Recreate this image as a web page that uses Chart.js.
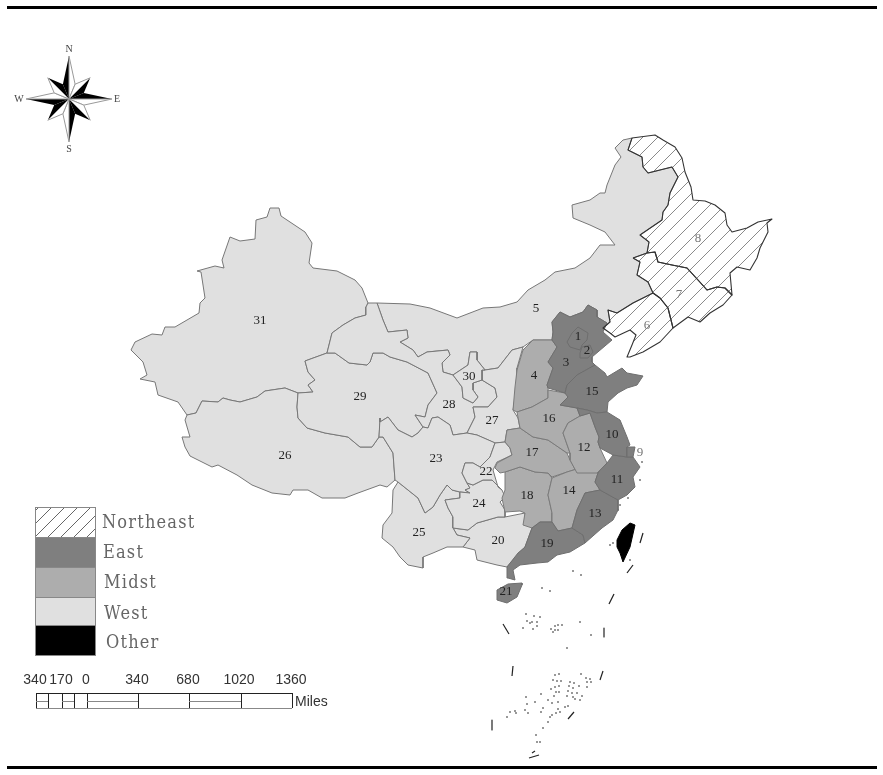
<!DOCTYPE html>
<html><head><meta charset="utf-8">
<style>html,body{margin:0;padding:0;background:#fff}canvas{display:block}</style>
<script src="https://cdn.jsdelivr.net/npm/chart.js@4"></script>
</head><body><canvas id="c" width="883" height="775"></canvas>
<script>
// Digitised map outlines, in map units
const beijing=[[567,342],[572,333],[578,327],[588,333],[587,340],[582,345],[580,350],[570,347]];
const tianjin=[[582,347],[590,345],[593,352],[588,358],[580,358],[580,353]];
const hebei=[[552,340],[553,332],[552,322],[560,312],[570,317],[583,312],[588,305],[597,310],[597,317],[607,323],[603,332],[612,340],[592,357],[592,362],[595,365],[577,375],[567,385],[565,393],[548,388],[547,385],[553,368],[548,362],[557,347]];
const shanxi=[[552,340],[533,340],[523,350],[517,370],[515,387],[513,410],[517,412],[532,407],[548,398],[548,388],[547,385],[553,368],[548,362],[557,347]];
const innerMongolia=[[377,303],[410,304],[430,308],[457,318],[483,308],[500,307],[517,302],[528,290],[545,280],[555,272],[575,268],[590,258],[600,245],[615,245],[605,232],[590,225],[573,218],[572,205],[590,200],[600,193],[605,193],[607,185],[615,165],[621,157],[615,148],[623,140],[632,138],[628,150],[642,157],[643,167],[648,173],[672,167],[678,177],[670,193],[668,205],[663,212],[662,220],[640,235],[649,242],[647,253],[633,258],[640,262],[637,275],[648,282],[653,293],[633,303],[617,313],[608,310],[610,322],[603,328],[607,323],[597,317],[597,310],[588,305],[583,312],[570,317],[560,312],[552,322],[553,332],[552,340],[533,340],[523,347],[512,350],[498,368],[485,370],[477,360],[477,352],[470,352],[468,365],[453,375],[443,372],[442,363],[450,355],[448,350],[427,352],[418,357],[413,350],[400,342],[408,338],[407,330],[388,332],[383,320]];
const liaoning=[[653,293],[660,298],[668,308],[673,328],[660,342],[643,352],[630,357],[627,357],[632,345],[636,335],[630,330],[615,337],[610,333],[603,328],[610,322],[608,310],[617,313],[633,303]];
const jilin=[[633,258],[640,262],[637,275],[648,282],[653,293],[660,298],[668,308],[673,328],[688,317],[700,322],[710,313],[723,305],[732,295],[725,288],[717,287],[707,290],[698,280],[687,268],[672,265],[658,262],[655,252],[647,253]];
const heilongjiang=[[632,138],[655,135],[663,140],[675,147],[682,158],[685,172],[691,187],[693,200],[705,201],[715,205],[725,213],[727,225],[732,232],[747,228],[758,222],[772,219],[767,223],[768,232],[760,248],[757,258],[750,270],[737,267],[730,273],[732,295],[725,288],[717,287],[707,290],[698,280],[687,268],[672,265],[658,262],[655,252],[647,253],[649,242],[640,235],[662,220],[663,212],[668,205],[670,193],[678,177],[672,167],[648,173],[643,167],[642,157],[628,150]];
const shanghai=[[627,447],[635,447],[633,457],[627,457]];
const jiangsu=[[577,408],[587,410],[597,413],[607,412],[620,420],[627,437],[630,445],[627,447],[627,457],[613,455],[600,448],[598,442],[599,437],[595,427],[590,413],[580,416]];
const zhejiang=[[607,463],[613,455],[627,457],[633,457],[640,467],[633,477],[635,487],[627,495],[618,500],[600,490],[595,482],[598,473]];
const anhui=[[580,416],[568,423],[563,433],[570,453],[570,460],[577,473],[597,473],[607,463],[600,448],[598,442],[599,437],[595,427],[590,413]];
const fujian=[[600,490],[618,500],[618,510],[613,520],[602,528],[585,543],[583,535],[572,528],[577,510],[585,493]];
const jiangxi=[[552,478],[567,472],[580,468],[598,473],[595,482],[600,490],[585,493],[577,510],[572,528],[558,531],[552,522],[552,513],[548,495]];
const shandong=[[595,365],[605,373],[607,377],[622,368],[627,373],[643,376],[637,385],[627,388],[618,393],[608,402],[607,412],[597,413],[587,410],[577,408],[560,405],[568,397],[565,393],[567,385],[577,375]];
const henan=[[517,412],[532,407],[548,398],[548,390],[565,393],[568,397],[560,405],[577,408],[580,416],[568,423],[563,433],[570,453],[567,453],[548,440],[533,437],[520,428]];
const hubei=[[507,430],[520,428],[533,437],[548,440],[567,453],[570,460],[577,473],[580,468],[567,472],[552,477],[548,473],[535,472],[520,467],[505,472],[500,473],[495,468],[497,463],[512,455],[510,448],[505,442]];
const hunan=[[505,472],[520,467],[535,472],[548,473],[552,478],[548,495],[552,513],[552,522],[540,522],[532,528],[523,525],[525,513],[520,511],[505,512],[503,503],[502,498],[505,490]];
const guangdong=[[532,528],[540,522],[552,522],[558,531],[572,528],[583,535],[585,543],[570,552],[557,555],[548,562],[537,563],[520,565],[513,570],[515,580],[508,578],[507,567],[518,553],[525,547]];
const guangxi=[[470,538],[463,547],[475,550],[477,560],[497,565],[507,567],[513,560],[525,547],[532,528],[525,523],[525,513],[505,517],[498,517],[477,523],[468,530],[453,528],[457,535]];
const hainan=[[497,590],[508,584],[522,583],[522,585],[517,597],[507,603],[497,600]];
const chongqing=[[462,473],[465,463],[473,463],[480,467],[490,457],[495,443],[505,442],[510,448],[512,455],[497,462],[493,470],[498,487],[502,490],[492,480],[483,480],[473,485],[467,483]];
const sichuan=[[380,418],[380,422],[388,417],[398,430],[412,437],[418,433],[423,427],[428,428],[432,418],[438,417],[450,425],[453,435],[467,433],[477,435],[493,442],[495,443],[490,457],[480,467],[473,463],[465,463],[462,473],[467,483],[470,488],[465,490],[470,493],[460,492],[452,490],[447,485],[440,495],[433,507],[425,513],[418,498],[408,490],[398,482],[395,480],[393,453],[383,437],[379,437]];
const guizhou=[[445,500],[460,498],[460,492],[470,493],[465,490],[470,488],[467,483],[473,485],[483,480],[492,480],[502,490],[505,497],[500,502],[505,510],[505,517],[498,517],[477,523],[468,530],[453,528],[453,517],[448,508]];
const yunnan=[[447,485],[452,490],[460,492],[460,498],[445,500],[448,508],[453,517],[453,528],[457,535],[470,538],[463,547],[447,547],[433,553],[423,557],[423,568],[408,565],[400,557],[393,547],[382,538],[383,525],[392,513],[393,490],[398,482],[408,490],[418,498],[425,513],[433,507],[440,495]];
const tibet=[[187,415],[196,413],[202,401],[218,402],[223,398],[230,400],[240,402],[257,397],[265,391],[285,388],[298,393],[297,407],[298,418],[307,428],[325,433],[348,437],[360,447],[372,447],[379,437],[383,437],[393,453],[395,480],[387,487],[380,485],[358,493],[345,498],[322,498],[308,490],[293,490],[290,495],[272,493],[252,485],[237,475],[218,465],[212,467],[190,456],[185,447],[182,437],[190,437],[185,420]];
const shaanxi=[[482,370],[485,370],[498,368],[512,350],[523,347],[517,368],[517,387],[513,410],[518,418],[520,428],[507,430],[505,442],[495,443],[477,435],[467,433],[472,423],[475,417],[473,407],[488,407],[497,397],[495,388],[482,380]];
const gansu=[[368,303],[377,303],[383,320],[388,332],[407,330],[408,338],[400,342],[413,350],[418,357],[427,352],[448,350],[450,355],[442,363],[443,372],[453,375],[462,387],[463,398],[473,403],[478,397],[473,390],[473,383],[482,380],[495,388],[497,397],[488,407],[473,407],[475,417],[472,423],[467,433],[453,435],[450,425],[438,417],[432,418],[428,428],[423,427],[415,415],[425,417],[428,405],[437,393],[428,373],[407,362],[390,357],[383,353],[373,353],[370,362],[367,365],[349,363],[335,353],[327,353],[332,333],[343,325],[355,318],[366,315],[366,307]];
const qinghai=[[305,361],[327,353],[335,353],[349,363],[367,365],[370,362],[373,353],[383,353],[390,357],[407,362],[428,373],[437,393],[428,405],[425,417],[415,415],[423,427],[418,433],[412,437],[398,430],[388,417],[380,422],[379,437],[372,447],[360,447],[348,437],[325,433],[307,428],[298,418],[297,407],[298,393],[313,392],[308,385],[315,380],[308,372]];
const ningxia=[[453,375],[468,365],[470,352],[477,352],[477,360],[485,370],[482,370],[482,380],[473,383],[473,390],[478,397],[473,403],[463,398],[462,387]];
const xinjiang=[[270,208],[279,208],[281,216],[290,222],[305,232],[312,243],[309,263],[313,268],[337,271],[355,280],[362,288],[368,303],[366,307],[366,315],[355,318],[343,325],[332,333],[327,353],[305,361],[308,372],[315,380],[308,385],[313,392],[298,393],[285,388],[265,391],[257,397],[240,402],[230,400],[223,398],[218,402],[202,401],[196,413],[187,415],[178,402],[158,395],[155,382],[140,379],[147,375],[143,362],[131,350],[135,342],[152,334],[162,335],[165,327],[175,327],[199,313],[200,303],[205,298],[201,272],[197,271],[215,266],[224,268],[222,260],[230,237],[240,241],[255,239],[256,220],[267,217]];
const taiwan=[[630,523],[635,525],[630,547],[623,562],[620,553],[617,547],[617,540],[622,530]];

const northeastRegions=[liaoning,jilin,heilongjiang];
const eastRegions=[beijing,tianjin,shanghai,jiangsu,zhejiang,fujian,shandong,guangdong,hainan,hebei];
const midstRegions=[anhui,jiangxi,henan,hubei,hunan,shanxi];
const westRegions=[chongqing,ningxia,guizhou,sichuan,yunnan,guangxi,shaanxi,gansu,qinghai,tibet,xinjiang,innerMongolia];
const otherRegions=[taiwan];

const islandDashes=[[[627,573],[633,565]],[[609,604],[614,594]],[[503,624],[509,634]],[[512,676],[513,666]],[[600,680],[603,671]],[[568,719],[574,712]],[[492,720],[492,730]],[[529,758],[539,755]],[[640,543],[643,533]],[[604,628],[604,637]],[[532,753],[535,751]]];
const islandDots=[[573,571],[581,575],[542,588],[550,591],[526,614],[534,616],[540,617],[527,621],[530,623],[537,622],[532,622],[523,628],[533,629],[537,626],[580,622],[591,635],[567,648],[562,625],[555,626],[558,625],[551,629],[555,630],[558,630],[553,632],[559,674],[555,675],[553,680],[557,681],[561,681],[555,687],[559,686],[551,689],[556,692],[559,692],[554,696],[581,674],[586,678],[590,679],[587,682],[591,682],[587,687],[570,682],[574,683],[569,686],[579,686],[573,688],[568,691],[572,693],[577,693],[567,696],[573,697],[582,696],[575,699],[580,700],[526,697],[541,694],[535,702],[548,700],[552,703],[558,702],[527,704],[525,710],[528,713],[543,708],[541,712],[558,709],[565,707],[568,706],[552,715],[556,713],[560,712],[550,717],[510,712],[515,711],[516,713],[507,717],[548,722],[543,728],[536,735],[537,742],[540,742],[636,470],[642,462],[640,480],[628,498],[620,505],[618,510],[613,543],[610,545],[630,560],[604,434]];

const provinceNumbers=["1","2","3","4","5","6","7","8","9","10","11","12","13","14","15","16","17","18","19","20","21","22","23","24","25","26","27","28","29","30","31"];
const numberX=[578,587,566,534,536,647,679,698,640,612,617,584,595,569,592,549,532,527,547,498,506,486,436,479,419,285,492,449,360,469,260];
const numberY=[336,350,362,375,308,325,294,238,452,434,479,447,513,490,391,418,452,495,543,540,591,471,458,503,532,455,420,404,396,376,320];

const legendLabels=["Northeast","East","Midst","West","Other"];
const scaleLabels=["340","170","0","340","680","1020","1360"];

function hatch(spacing,color){
  const c=document.createElement('canvas');c.width=spacing;c.height=spacing;
  const g=c.getContext('2d');g.strokeStyle=color;g.lineWidth=1;
  g.beginPath();g.moveTo(-1,spacing+1);g.lineTo(spacing+1,-1);
  g.moveTo(-1,1);g.lineTo(1,-1);g.moveTo(spacing-1,spacing+1);g.lineTo(spacing+1,spacing-1);g.stroke();
  return g.createPattern(c,'repeat');
}
const FILL={ne:hatch(15,'#8a8a8a'),east:'#7f7f7f',mid:'#adadad',west:'#e0e0e0',other:'#000'};
function poly(pts,fill,line,w){
  const data=pts.concat([pts[0]]).map(p=>({x:p[0],y:p[1]}));
  return {data,showLine:true,fill:'shape',backgroundColor:fill,borderColor:line,borderWidth:w,pointRadius:0,tension:0};
}
const datasets=[];
northeastRegions.forEach(r=>datasets.push(poly(r,FILL.ne,'#333',1.1)));
otherRegions.forEach(r=>datasets.push(poly(r,FILL.other,'#000',1)));
eastRegions.forEach(r=>datasets.push(poly(r,FILL.east,'#6e6e6e',1)));
midstRegions.forEach(r=>datasets.push(poly(r,FILL.mid,'#7a7a7a',1)));
westRegions.forEach(r=>datasets.push(poly(r,FILL.west,'#777',1)));
islandDashes.forEach(d=>datasets.push({data:d.map(p=>({x:p[0],y:p[1]})),showLine:true,fill:false,borderColor:'#222',borderWidth:1.2,pointRadius:0}));
datasets.push({data:islandDots.map(p=>({x:p[0],y:p[1]})),showLine:false,pointRadius:1,pointBorderWidth:0,pointBackgroundColor:'#777'});

const decor={id:'decor',afterDatasetsDraw(chart){
  const ctx=chart.ctx,X=v=>chart.scales.x.getPixelForValue(v),Y=v=>chart.scales.y.getPixelForValue(v);
  ctx.save();
  ctx.fillStyle='#000';
  ctx.fillRect(X(7),Y(6),X(877)-X(7),3);ctx.fillRect(X(7),Y(766),X(877)-X(7),3);
  ctx.textAlign='center';ctx.textBaseline='middle';ctx.font='13px "Liberation Serif"';
  provinceNumbers.forEach((t,i)=>{ctx.fillStyle=(i>=5&&i<=8)?'#777':'#222';ctx.fillText(t,X(numberX[i]),Y(numberY[i]+1));});
  const tops=[507,537,567,597,625,655],fills=[FILL.ne,FILL.east,FILL.mid,FILL.west,FILL.other];
  const lx=[102,103,104,104,106],ly=[523,553,583,614,643];
  fills.forEach((f,i)=>{
    ctx.fillStyle='#fff';ctx.fillRect(X(35),Y(tops[i]),60,tops[i+1]-tops[i]);
    ctx.fillStyle=i===0?hatch(13,'#666'):f;ctx.fillRect(X(35),Y(tops[i]),60,tops[i+1]-tops[i]);
    ctx.strokeStyle='#888';ctx.lineWidth=1;ctx.strokeRect(X(35)+.5,Y(tops[i])+.5,60,tops[i+1]-tops[i]);
  });
  ctx.textAlign='left';ctx.font='condensed 18px "DejaVu Serif"';ctx.fillStyle='#666';
  if('letterSpacing' in ctx)ctx.letterSpacing='1.2px';
  legendLabels.forEach((t,i)=>ctx.fillText(t,X(lx[i]),Y(ly[i])));
  if('letterSpacing' in ctx)ctx.letterSpacing='0px';
  const tx=[36,48,62,74,87,138,189,241,292],lab=[35,61,86,137,188,239,291];
  ctx.strokeStyle='#222';ctx.lineWidth=1;
  ctx.beginPath();ctx.moveTo(X(36),Y(693)+.5);ctx.lineTo(X(292),Y(693)+.5);
  tx.forEach(x=>{ctx.moveTo(X(x)+.5,Y(693));ctx.lineTo(X(x)+.5,Y(708));});ctx.stroke();
  ctx.strokeStyle='#888';ctx.beginPath();ctx.moveTo(X(36),Y(708)+.5);ctx.lineTo(X(292),Y(708)+.5);
  for(let i=0;i<8;i+=2){ctx.moveTo(X(tx[i]),Y(701)+.5);ctx.lineTo(X(tx[i+1]),Y(701)+.5);}ctx.stroke();
  ctx.font='14px "Liberation Sans"';ctx.fillStyle='#333';ctx.textAlign='center';
  scaleLabels.forEach((t,i)=>ctx.fillText(t,X(lab[i]),Y(680)));
  ctx.textAlign='left';ctx.fillText('Miles',X(295),Y(702));
  const cx=X(69),cy=Y(99),rad=[43,30],base=16;
  for(let k=0;k<8;k++){
    const a=k*Math.PI/4-Math.PI/2,r=k%2?rad[1]:rad[0];
    const tip=[cx+r*Math.cos(a),cy+r*Math.sin(a)];
    const L=[cx+base*Math.cos(a-Math.PI/8),cy+base*Math.sin(a-Math.PI/8)];
    const R=[cx+base*Math.cos(a+Math.PI/8),cy+base*Math.sin(a+Math.PI/8)];
    const dark=k%2?R:L,light=k%2?L:R;
    ctx.fillStyle='#000';ctx.beginPath();ctx.moveTo(cx,cy);ctx.lineTo(...dark);ctx.lineTo(...tip);ctx.closePath();ctx.fill();
    ctx.fillStyle='#fff';ctx.strokeStyle='#999';ctx.beginPath();ctx.moveTo(cx,cy);ctx.lineTo(...light);ctx.lineTo(...tip);ctx.closePath();ctx.fill();ctx.stroke();
  }
  ctx.font='10px "Liberation Serif"';ctx.fillStyle='#444';ctx.textAlign='center';
  ctx.fillText('N',X(69),Y(49));ctx.fillText('S',X(69),Y(149));ctx.fillText('W',X(19),Y(99));ctx.fillText('E',X(117),Y(99));
  ctx.restore();
}};

new Chart(document.getElementById('c'),{type:'scatter',data:{datasets},plugins:[decor],options:{
  responsive:false,animation:false,devicePixelRatio:1,layout:{padding:0,autoPadding:false},
  plugins:{legend:{display:false},tooltip:{enabled:false},filler:{propagate:false}},
  elements:{line:{borderJoinStyle:'round'}},
  scales:{x:{type:'linear',min:0,max:883,display:false},y:{type:'linear',min:0,max:775,reverse:true,display:false}}
}});
</script></body></html>
